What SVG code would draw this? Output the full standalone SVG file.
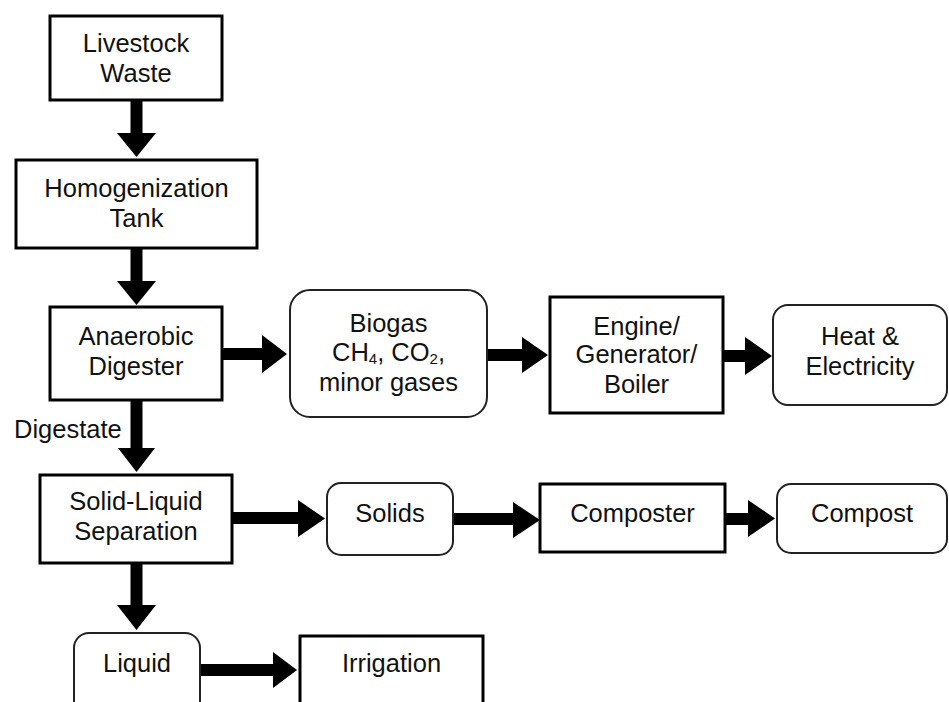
<svg xmlns="http://www.w3.org/2000/svg" width="949" height="702" viewBox="0 0 949 702">
<style>
  .sq { fill: #fff; stroke: #000; stroke-width: 3; }
  .rd { fill: #fff; stroke: #222; stroke-width: 2; }
  .t { font-family: "Liberation Sans", Arial, sans-serif; font-size: 25.5px; fill: #111; text-anchor: middle; }
  .lbl { font-family: "Liberation Sans", Arial, sans-serif; font-size: 25.5px; fill: #111; }
  .sub { font-size: 15px; }
  .arr { fill: #000; }
</style>
<rect width="949" height="702" fill="#fff"/>
<g id="connectors">
  <polygon class="arr" points="130.5,100 142.5,100 142.5,133 156,133 136.5,157 117,133 130.5,133"/>
  <polygon class="arr" points="130.5,248 142.5,248 142.5,281 156,281 136.5,305 117,281 130.5,281"/>
  <polygon class="arr" points="130.5,400 142.5,400 142.5,448 155,448 136.5,472 118,448 130.5,448"/>
  <polygon class="arr" points="130.5,563 142.5,563 142.5,605 156,605 136.5,630 117,605 130.5,605"/>
  <polygon class="arr" points="222,348 262,348 262,335 287,354 262,373 262,360 222,360"/>
  <polygon class="arr" points="487,349 522,349 522,337 548,355 522,373 522,361 487,361"/>
  <polygon class="arr" points="723,350 745,350 745,337 772,356 745,375 745,362 723,362"/>
  <polygon class="arr" points="232,512 298,512 298,500 325,518.5 298,537 298,524 232,524"/>
  <polygon class="arr" points="453,513 513,513 513,502 540,520 513,538 513,525 453,525"/>
  <polygon class="arr" points="725,513 748,513 748,500 775,518.5 748,537 748,525 725,525"/>
  <polygon class="arr" points="200,664 273,664 273,652 297,670 273,688 273,676 200,676"/>
  <text class="lbl" x="14" y="438">Digestate</text>
</g>
<g id="livestock-waste">
  <rect class="sq" x="50" y="16" width="172" height="84"/>
  <text class="t" x="136" y="52">Livestock</text>
  <text class="t" x="136" y="82">Waste</text>
</g>
<g id="homogenization-tank">
  <rect class="sq" x="16" y="160" width="241" height="88"/>
  <text class="t" x="136.5" y="197">Homogenization</text>
  <text class="t" x="136.5" y="227">Tank</text>
</g>
<g id="anaerobic-digester">
  <rect class="sq" x="50" y="307" width="172" height="93"/>
  <text class="t" x="136" y="345">Anaerobic</text>
  <text class="t" x="136" y="375">Digester</text>
</g>
<g id="biogas">
  <rect class="rd" x="290" y="290" width="197" height="127" rx="20" ry="20"/>
  <text class="t" x="388.5" y="332">Biogas</text>
  <text class="t" x="388.5" y="361">CH<tspan class="sub" dy="3">4</tspan><tspan dy="-3">, CO</tspan><tspan class="sub" dy="3">2</tspan><tspan dy="-3">,</tspan></text>
  <text class="t" x="388.5" y="391">minor gases</text>
</g>
<g id="engine-generator-boiler">
  <rect class="sq" x="550" y="297" width="173" height="116"/>
  <text class="t" x="636.5" y="335">Engine/</text>
  <text class="t" x="636.5" y="363">Generator/</text>
  <text class="t" x="636.5" y="393">Boiler</text>
</g>
<g id="heat-electricity">
  <rect class="rd" x="773" y="305" width="174" height="100" rx="15" ry="15"/>
  <text class="t" x="860" y="345">Heat &amp;</text>
  <text class="t" x="860" y="375">Electricity</text>
</g>
<g id="solid-liquid-separation">
  <rect class="sq" x="40" y="475" width="192" height="88"/>
  <text class="t" x="136" y="510">Solid-Liquid</text>
  <text class="t" x="136" y="540">Separation</text>
</g>
<g id="solids">
  <rect class="rd" x="327" y="483" width="126" height="72" rx="14" ry="14"/>
  <text class="t" x="390" y="522">Solids</text>
</g>
<g id="composter">
  <rect class="sq" x="540" y="484" width="185" height="68"/>
  <text class="t" x="632.5" y="522">Composter</text>
</g>
<g id="compost">
  <rect class="rd" x="777" y="484" width="170" height="69" rx="14" ry="14"/>
  <text class="t" x="862" y="522">Compost</text>
</g>
<g id="liquid">
  <rect class="rd" x="74" y="633" width="126" height="90" rx="15" ry="15"/>
  <text class="t" x="137" y="672">Liquid</text>
</g>
<g id="irrigation">
  <rect class="sq" x="300" y="636" width="183" height="90"/>
  <text class="t" x="391.5" y="672">Irrigation</text>
</g>
</svg>
